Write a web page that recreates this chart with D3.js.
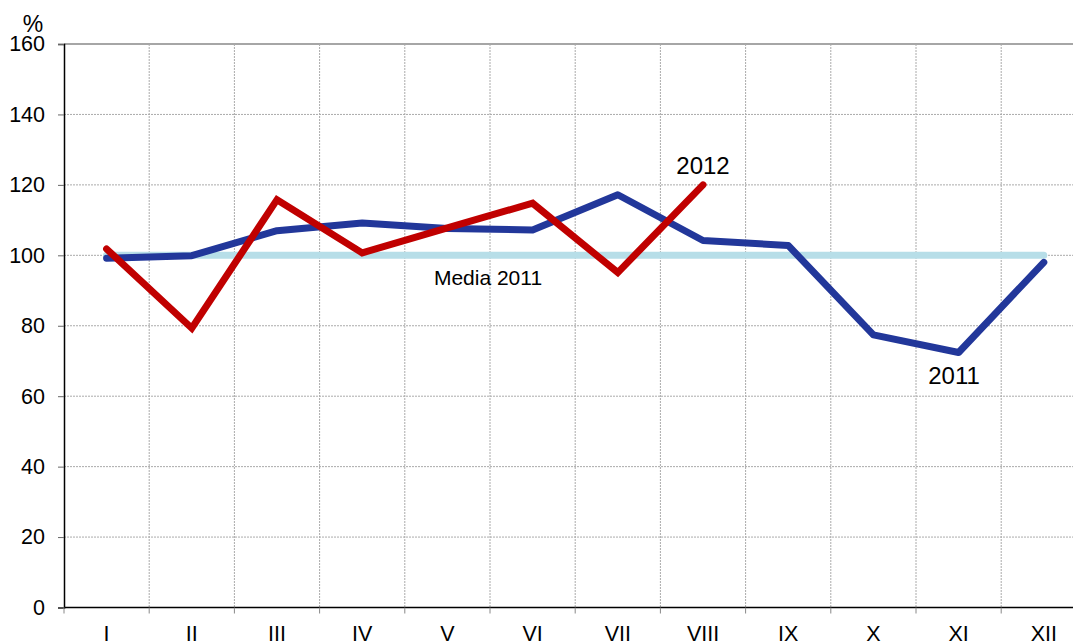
<!DOCTYPE html>
<html><head><meta charset="utf-8">
<script src="https://cdn.jsdelivr.net/npm/d3@7"></script>
<style>body{margin:0;background:#fff;}svg{display:block;font-family:"Liberation Sans",Arial,sans-serif;}</style>
</head><body>
<svg id="c" width="1073" height="642"></svg>
<script>
const months = ["I","II","III","IV","V","VI","VII","VIII","IX","X","XI","XII"];
const values2011 = [99.2, 99.9, 107, 109.2, 107.6, 107.2, 117.2, 104.2, 102.8, 77.4, 72.4, 98.0];
const values2012 = [101.8, 79.3, 115.8, 100.7, 107.8, 114.8, 95.1, 120.0];
const media2011 = 100;
const yTicks = [0, 20, 40, 60, 80, 100, 120, 140, 160];

(function () {
const svg = d3.select("#c");
const mLeft = 64, mTop = 44, mBottom = 607.5, bandW = 85.2;
const mRight = mLeft + bandW * 12;
const FF = "Liberation Sans, Arial, sans-serif";

const x = d3.scaleBand().domain(months).range([mLeft, mRight]).padding(0);
const y = d3.scaleLinear().domain([0, 160]).range([mBottom, mTop]);
const cx = m => x(m) + x.bandwidth() / 2;

// gridlines
const g = svg.append("g");
g.selectAll("line.h").data(yTicks.filter(t => t > 0)).enter().append("line")
  .attr("x1", mLeft).attr("x2", mRight).attr("y1", d => y(d)).attr("y2", d => y(d))
  .attr("stroke", d => d === 160 ? "#888" : "#aaa").attr("stroke-width", d => d === 160 ? 1.5 : 1)
  .attr("stroke-dasharray", d => d === 160 ? null : "2,1");
g.selectAll("line.v").data(months.slice(1)).enter().append("line")
  .attr("x1", d => x(d)).attr("x2", d => x(d)).attr("y1", mTop).attr("y2", mBottom)
  .attr("stroke", "#aaa").attr("stroke-width", 1).attr("stroke-dasharray", "2,1");

// axes
const yAxis = d3.axisLeft(y).tickValues(yTicks).tickSize(6).tickPadding(13);
const ya = svg.append("g").attr("transform", `translate(${mLeft},0)`).call(yAxis);
ya.select(".domain").attr("stroke", "#000").attr("stroke-width", 1.5);
ya.selectAll(".tick line").attr("stroke", "#666");
ya.selectAll("text").attr("font-size", 21.5).attr("fill", "#000").attr("font-family", FF);

const xAxis = d3.axisBottom(x).tickSize(0).tickPadding(18);
const xa = svg.append("g").attr("transform", `translate(0,${mBottom})`).call(xAxis);
xa.select(".domain").remove();
xa.selectAll("text").attr("font-size", 21.5).attr("fill", "#000").attr("font-family", FF);
svg.append("line").attr("x1", mLeft).attr("x2", mRight).attr("y1", mBottom).attr("y2", mBottom).attr("stroke", "#000").attr("stroke-width", 1.5);
svg.append("g").selectAll("line").data(months).enter().append("line")
  .attr("x1", d => x(d)).attr("x2", d => x(d)).attr("y1", mBottom).attr("y2", mBottom + 6)
  .attr("stroke", "#888").attr("stroke-width", 1);

svg.append("text").attr("x", 33).attr("y", 32).attr("text-anchor", "middle").attr("font-size", 23).text("%");

// media line
svg.append("line").attr("x1", cx("I")).attr("x2", cx("XII")).attr("y1", y(media2011)).attr("y2", y(media2011))
  .attr("stroke", "#B7DEE8").attr("stroke-width", 7).attr("stroke-linecap", "round");

const line = d3.line().x(d => cx(d.m)).y(d => y(d.v));
svg.append("path").datum(values2011.map((v, i) => ({m: months[i], v})))
  .attr("d", line).attr("fill", "none").attr("stroke", "#22379A").attr("stroke-width", 7)
  .attr("stroke-linejoin", "round").attr("stroke-linecap", "round");
svg.append("path").datum(values2012.map((v, i) => ({m: months[i], v})))
  .attr("d", line).attr("fill", "none").attr("stroke", "#C00000").attr("stroke-width", 7)
  .attr("stroke-linejoin", "miter").attr("stroke-linecap", "round");

svg.append("text").attr("x", 488).attr("y", 285).attr("text-anchor", "middle").attr("font-size", 21).text("Media 2011");
svg.append("text").attr("x", 703).attr("y", 174).attr("text-anchor", "middle").attr("font-size", 24).text("2012");
svg.append("text").attr("x", 954).attr("y", 383.5).attr("text-anchor", "middle").attr("font-size", 24).text("2011");
})();
</script>
</body></html>
